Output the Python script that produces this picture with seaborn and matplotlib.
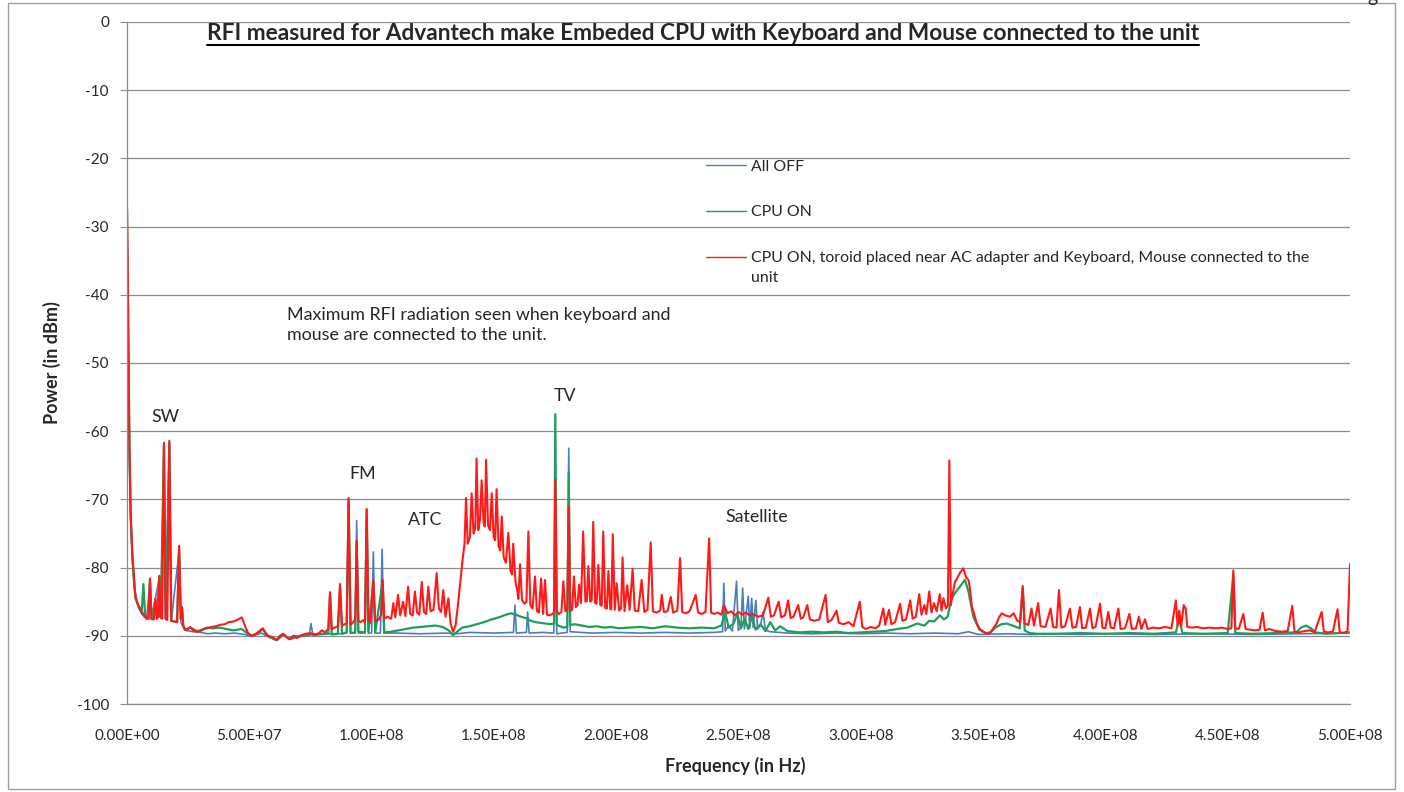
import numpy as np
import pandas as pd
import matplotlib
matplotlib.use("Agg")
import matplotlib.pyplot as plt
from matplotlib.lines import Line2D
from matplotlib.patches import Rectangle
from matplotlib.ticker import FuncFormatter
import seaborn as sns

# 범례 / 제목 텍스트
title = "RFI measured for Advantech make Embeded CPU with Keyboard and Mouse connected to the unit"
series_labels = ["All OFF", "CPU ON",
                 "CPU ON, toroid placed near AC adapter and Keyboard, Mouse connected to the\nunit"]
y_ticks = list(range(-100, 1, 10))
x_ticks_hz = [0, 5e7, 1e8, 1.5e8, 2e8, 2.5e8, 3e8, 3.5e8, 4e8, 4.5e8, 5e8]

# All OFF (MHz, dBm)
off_mhz = [0, 0.5, 1.0, 1.5, 2.2, 3, 4.6, 6, 8, 9.4, 10, 13.2, 13.8, 15.1, 15.8, 17.3, 18.1, 21.3, 22, 23.7,
           27, 30, 33, 36, 40, 44, 48, 51, 55, 58, 61.2, 64, 67, 71, 74.5, 75.2, 76, 80, 83, 87, 89.8,
           90.6, 91.4, 93.3, 93.9, 94.6, 97.3, 98.0, 98.7, 100.0, 100.7, 101.4, 103.6, 104.3, 105.0,
           110, 120, 130, 135, 140, 150, 158, 158.6, 159.2, 163.3, 163.8, 164.4, 170, 174.5, 175.1,
           175.7, 180.0, 180.6, 181.2, 190, 200, 210, 220, 230, 240, 243.5, 244, 244.6, 246, 247.5,
           249.2, 249.9, 251.0, 251.7, 252.4, 254.0, 254.6, 255.4, 256.0, 257.1, 257.8, 259, 260, 261,
           263, 270, 280, 290, 300, 310, 320, 330, 340, 344, 348, 360, 370, 380, 390, 400, 420, 440,
           460, 480, 500]
off_dbm = [-28, -47, -64, -73, -79, -83, -85.8, -86.8, -87.6, -82, -87.6, -81.5, -87.4, -62.5, -87.6, -62,
           -87.9, -77.5, -88, -89.2, -89.4, -89.5, -89.7, -89.6, -89.7, -89.6, -89.8, -90.1, -89.6, -90.2,
           -90.7, -89.9, -90.5, -90.1, -89.9, -88.2, -89.9, -89.8, -89.7, -89.7, -89.6, -70.2, -89.6,
           -89.6, -73.1, -89.6, -89.6, -71.8, -89.6, -89.6, -77.7, -89.6, -89.6, -77.3, -89.6, -89.6,
           -89.7, -89.6, -89.7, -89.5, -89.6, -89.5, -85.5, -89.6, -89.5, -86.5, -89.6, -89.5, -89.6,
           -70, -89.7, -89.5, -62.5, -89.4, -89.6, -89.5, -89.6, -89.5, -89.6, -89.5, -89.4, -82.3,
           -89.3, -88.5, -89.3, -82.0, -89.2, -88.8, -83.0, -89.0, -84.2, -88.9, -84.5, -88.8, -84.8,
           -89.0, -88.5, -86.5, -89.2, -89.4, -89.6, -89.7, -89.6, -89.7, -89.6, -89.7, -89.6, -89.7,
           -89.4, -89.8, -89.7, -89.8, -89.7, -89.8, -89.7, -89.8, -89.7, -89.8, -89.7, -89.6]

# CPU ON (MHz, dBm)
cpu_mhz = [0, 0.5, 1.0, 1.5, 2.2, 3.0, 3.5, 4.6, 6.0, 6.7, 7.4, 8.8, 9.4, 10, 11.6, 12.2, 13.2, 13.8,
           15.1, 15.8, 17.3, 18.1, 20.5, 21.3, 22, 22.5, 23.0, 23.7, 26, 28.5, 30, 32.6, 35, 38, 40.5,
           43.5, 46.9, 49, 51, 54.4, 55.6, 57.8, 61.2, 63.9, 66.5, 68, 71.4, 75.2, 79.6, 82.3, 83.0,
           83.7, 86.2, 87.1, 87.9, 89.8, 90.6, 91.4, 93.3, 93.9, 94.6, 97.3, 98.0, 98.7, 100.7, 101.5,
           104.5, 105.2, 108, 111, 114, 117, 120, 123, 126, 129, 131.5, 133.3, 135, 137, 140, 143, 146,
           149, 152, 155, 157, 159, 161, 163, 165, 167, 169, 171, 173, 174.6, 175.1, 175.7, 177, 178.5,
           180.0, 180.6, 181.2, 183, 186, 189, 192, 195, 198, 201, 205, 210, 215, 220, 225, 230, 235,
           240, 243, 244.5, 246, 248, 249.5, 251, 252.5, 254, 255.5, 257, 259, 261, 263, 265, 267, 270,
           275, 280, 285, 290, 295, 300, 305, 310, 315, 319, 323, 326, 328, 330, 332.3, 334, 335.5,
           337.1, 339, 340.5, 342.6, 344, 346, 348.5, 351, 353, 355, 357.5, 359.6, 362, 365, 366.2,
           367, 369, 372, 380, 390, 400, 410, 420, 428.8, 430.2, 431.5, 440, 450, 452.3, 453.1, 460,
           470, 478, 480, 482, 484, 486, 490, 500]
cpu_dbm = [-27.5, -46, -63, -72.5, -78.5, -82.5, -84.5, -85.5, -86.5, -82.4, -87, -87.5, -81.8, -87.5,
           -84.7, -87.5, -81.4, -87.3, -62, -87.5, -61.7, -87.8, -88, -77, -87.5, -86, -88.5, -89.1,
           -88.8, -89.3, -89.2, -88.8, -88.9, -88.8, -89, -89.2, -89.0, -89.6, -90.0, -89.4, -89.0,
           -90.1, -90.6, -89.8, -90.5, -90.1, -90.0, -89.8, -89.7, -89.6, -84.0, -89.8, -89.7, -83,
           -89.7, -89.5, -70.0, -89.6, -89.5, -76.2, -89.4, -89.5, -71.6, -89.4, -82, -89.5, -82.0,
           -89.5, -89.4, -89.2, -89.0, -88.8, -88.7, -88.6, -88.5, -88.7, -89.2, -89.9, -89.4, -88.8,
           -88.6, -88.3, -88.0, -87.6, -87.3, -86.9, -86.7, -86.9, -87.2, -87.4, -87.8, -88.0, -88.1,
           -88.2, -88.3, -88.2, -57.5, -88.4, -88.6, -88.8, -88.7, -66.0, -88.4, -88.3, -88.5, -88.7,
           -88.6, -88.8, -88.7, -88.9, -88.8, -88.7, -88.9, -88.6, -88.8, -88.9, -88.8, -88.9, -88.5,
           -86.5, -88.8, -88.2, -86.8, -88.9, -87.5, -89, -87.2, -89.1, -88.3, -89.3, -88.0, -89.2,
           -88.6, -89.3, -89.5, -89.4, -89.5, -89.4, -89.6, -89.5, -89.4, -89.3, -89.0, -88.8, -88.2,
           -88.5, -87.8, -87.9, -87.0, -87.6, -87.2, -84.5, -83.5, -82.8, -81.8, -83.5, -87.2, -89.1,
           -89.6, -89.5, -88.8, -88.3, -88.2, -88.5, -88.9, -82.9, -89.2, -89.6, -89.7, -89.7, -89.6,
           -89.7, -89.6, -89.7, -89.5, -87.5, -89.6, -89.7, -89.6, -81, -89.6, -89.7, -89.6, -89.5,
           -88.8, -88.5, -88.9, -89.5, -89.7, -89.5]

# CPU ON, toroid + keyboard/mouse (MHz, dBm)
kbd_mhz = [0, 0.5, 1.0, 1.5, 2.2, 3.0, 3.5, 4.6, 6.0, 6.7, 7.5, 8.0, 8.8, 9.4, 10.0, 11.0, 11.6, 12.2,
           12.8, 13.2, 13.8, 14.4, 15.1, 15.8, 16.5, 17.3, 18.1, 19.5, 20.5, 21.3, 22.0, 22.5, 23.0,
           23.7, 25.0, 25.8, 27.0, 28.5, 30.0, 31.5, 32.6, 34.5, 36.5, 38.0, 40.0, 41.5, 43.5, 45.5,
           46.9, 47.6, 48.5, 49.5, 51.0, 52.5, 54.4, 55.6, 56.5, 57.8, 59.5, 61.2, 62.5, 63.9, 65.5,
           66.5, 68.0, 69.5, 71.4, 73.0, 75.2, 77.0, 78.5, 79.6, 81.0, 82.3,
           83.0, 83.7, 85.0, 86.2, 87.1, 87.9, 89.0, 89.8, 90.6, 91.4, 92.5, 93.3, 93.9, 94.6, 95.5,
           96.5, 97.3, 98.0, 98.7, 99.5, 100.7, 101.5, 103.0, 104.0, 104.5, 105.2, 106.5, 108.0, 108.9,
           109.7, 110.8, 111.7, 112.9, 113.8, 114.9, 115.8, 116.8, 117.7, 118.6, 119.5, 120.5, 121.4,
           122.3, 123.2, 124.1, 125.3, 126.6, 127.5, 128.4, 129.3, 130.2, 131.4, 132.3, 133.3, 134.3,
           135.3, 136.3, 137.3, 138.0, 138.6, 139.3, 140.2, 140.9, 141.7, 142.4, 142.9, 143.6, 144.3,
           145.0, 145.8, 146.3, 146.8, 147.6, 148.4, 149.1, 149.9, 150.5, 151.1, 151.9, 152.6, 153.2,
           154.0, 154.9, 155.9, 156.8, 157.4, 157.9, 158.8, 159.6, 160.0, 160.7, 161.5, 162.5, 163.3,
           164.1, 164.9, 165.8, 166.8, 167.6, 168.4, 169.3, 170.1, 170.9, 171.7, 172.8, 174.0, 174.6,
           175.1, 175.7, 176.5, 177.6, 178.4, 179.2, 180.0, 180.6, 181.2, 182.0, 182.7, 183.5, 184.2,
           184.8, 185.6, 186.5, 187.4, 188.0, 188.6, 189.4, 190.0, 190.6, 191.4, 192.0, 192.7, 193.5,
           194.1, 194.7, 195.5, 196.2, 196.8, 197.6, 198.0, 198.6, 199.4, 200.2, 201.2, 202.0, 202.6,
           203.4, 204.5, 205.5, 206.7, 207.6, 209.0, 210.4, 211.5, 212.8, 214.1, 215.0, 216.5, 218.0,
           218.6, 219.5, 221.0, 222.3, 223.3, 225.0, 226.1, 227.0, 228.5, 230.0, 232.5, 233.5, 235.0,
           236.5, 238.0, 238.8, 240.0, 241.5, 243.0, 244.0, 245.5, 247.0, 248.5, 250.0, 251.5, 253.0,
           254.5, 256.0, 258.0, 260.0, 262.2, 263.2, 264.5, 266.4, 267.5, 269.0, 270.3, 271.3, 272.5,
           274.4, 275.5, 276.5, 278.1, 279.2, 281.0, 283.0, 285.6, 286.5, 288.0, 290.1, 291.0, 293.0,
           295.0, 297.0, 299.6, 300.6, 302.0, 304.0, 306.0, 307.5, 309.2, 310.0, 311.5, 312.5, 314.0,
           316.1, 317.0, 318.5, 320.2, 321.2, 322.5, 323.9, 324.8, 326.0, 326.8, 328.0, 328.9, 329.9,
           331.0, 332.3, 333.0, 333.8, 334.8, 335.6, 336.2, 336.8, 337.5, 338.5, 339.5, 340.5, 341.9,
           343.0, 344.0, 344.6, 345.4, 346.5, 347.4, 348.7, 350.1, 351.5, 352.8, 354.0, 355.5, 356.5,
           357.6, 359.0, 361.0, 362.5, 364.0, 365.1, 366.2, 367.0, 368.5, 369.8, 370.8, 372.5, 373.5,
           375.5, 377.6, 378.6, 380.0, 381.0, 382.0, 383.5, 385.5, 386.5, 388.0, 389.6, 390.5, 392.0,
           393.7, 394.7, 396.0, 397.8, 398.8, 400.0, 401.2, 402.2, 403.5, 405.3, 406.2, 408.0, 409.8,
           410.8, 412.5, 413.7, 414.7, 416.2, 417.3, 419.5, 422.0, 424.5, 427.0, 428.8, 429.5, 430.2,
           431.0, 432.0, 432.8, 433.5, 435.5, 437.5, 440.0, 442.5, 445.0, 447.5, 450.0, 451.5, 452.3,
           453.1, 454.5, 456.4, 457.3, 459.0, 461.5, 463.0, 464.3, 465.2, 467.0, 469.5, 472.0, 474.5,
           476.4, 477.3, 479.0, 481.5, 483.6, 485.5, 488.4, 489.3, 491.0, 493.0, 494.9, 495.8, 497.5,
           499.0, 500.0]
kbd_dbm = [-26.8, -45, -62, -72, -78, -82.3, -84.5, -85.5, -86.5, -86.8, -87.2, -87.4, -87.5, -81.6,
           -87.5, -87.6, -84.5, -87.5, -87.2, -81.2, -87.3, -87.5, -61.7, -87.5, -87.7, -61.4, -87.8,
           -87.9, -88, -76.8, -87.5, -85.8, -88.5, -89.1, -89.0, -88.7, -89.2, -89.4, -89.3, -89.0,
           -88.9, -88.7, -88.6, -88.4, -88.3, -88.0, -87.9, -87.6, -87.3, -87.9, -88.8, -89.6, -90.0,
           -89.8, -89.2, -88.9, -89.6, -90.0, -90.2, -90.6, -90.0, -89.7, -90.3, -90.5, -90.0, -90.3,
           -89.9, -89.7, -89.6, -89.9, -89.6, -89.2, -89.5, -89.0,
           -83.6, -89.0, -88.8, -88.6, -82.4, -88.5, -88.3, -88.2, -69.8, -88.4, -88.0, -87.5, -76.0,
           -87.8, -88.0, -87.7, -88.0, -71.4, -87.7, -88.1, -81.8, -87.9, -87.6, -86.8, -81.8, -87.5,
           -87.2, -87.5, -85.2, -87.3, -84.0, -87.0, -85.0, -87.1, -82.8, -86.8, -87.0, -83.5, -86.6,
           -86.9, -82.1, -86.5, -86.8, -82.8, -86.4, -86.2, -80.8, -86.0, -86.5, -83.3, -87.2, -84.5,
           -88.2, -89.4, -88.5, -85.5, -82.0, -78.5, -76.5, -69.8, -76.5, -75.5, -69.1, -75.0, -74.2,
           -64.0, -74.5, -73.0, -67.2, -73.5, -74.0, -64.2, -73.8, -74.5, -69.1, -75.5, -76.0, -68.5,
           -76.8, -77.5, -72.5, -78.5, -79.3, -74.9, -80.5, -81.0, -76.5, -82.0, -83.5, -84.6, -79.5,
           -84.8, -85.3, -85.0, -74.7, -85.5, -86.0, -81.3, -86.4, -86.6, -81.6, -86.8, -81.8, -86.9,
           -87.0, -86.8, -86.5, -67.1, -86.3, -86.8, -86.5, -82.0, -86.4, -86.2, -71.1, -86.4, -86.1,
           -81.3, -85.8, -85.5, -82.5, -85.2, -74.7, -85.0, -84.9, -79.8, -85.0, -84.8, -73.3, -85.2,
           -85.3, -79.6, -85.5, -85.6, -74.7, -85.9, -86.0, -80.5, -86.1, -86.1, -75.1, -86.2, -82.3,
           -86.3, -86.0, -78.5, -86.4, -82.6, -86.2, -80.2, -86.3, -86.4, -81.8, -86.5, -86.2, -76.3,
           -86.4, -86.6, -86.3, -84.0, -86.5, -86.4, -84.3, -86.6, -86.3, -78.6, -86.5, -86.7, -86.4,
           -84.0, -86.6, -86.8, -86.5, -75.7, -86.6, -86.8, -86.6, -86.9, -85.5, -86.7, -86.4, -87.0,
           -86.5, -86.9, -86.6, -87.0, -86.8, -87.2, -87.0, -84.4, -87.2, -87.0, -85.0, -87.3, -87.0,
           -84.8, -87.4, -87.2, -85.5, -87.5, -87.3, -85.5, -87.6, -87.8, -87.6, -84.0, -88.0, -87.7,
           -86.3, -88.1, -88.3, -88.0, -88.6, -85.0, -88.7, -89.0, -88.7, -88.9, -88.5, -86.0, -88.4,
           -86.2, -88.3, -88.0, -85.3, -87.8, -87.6, -84.8, -87.5, -87.2, -83.9, -86.9, -85.5, -86.8,
           -83.5, -86.6, -85.2, -86.4, -83.9, -86.3, -84.5, -86.0, -85.6, -64.3, -85.5, -84.0, -82.1,
           -81.5, -80.8, -80.1, -81.4, -81.8, -83.0, -85.7, -87.0, -88.2, -89.0, -89.4, -89.7, -89.6,
           -89.0, -88.2, -87.3, -86.7, -87.0, -87.2, -86.7, -87.8, -88.0, -82.7, -88.2, -88.4, -86.0,
           -88.5, -85.2, -88.6, -88.7, -86.0, -88.7, -88.8, -83.3, -88.8, -88.6, -86.0, -88.8, -88.7,
           -85.8, -88.9, -88.8, -86.0, -88.9, -88.7, -85.3, -88.8, -88.9, -86.5, -88.8, -88.9, -86.0,
           -89.0, -88.9, -86.8, -89.0, -88.9, -87.2, -89.0, -87.6, -89.0, -88.8, -88.9, -88.7, -88.9,
           -84.8, -88.5, -86.3, -88.6, -85.5, -86.0, -88.7, -88.8, -88.7, -88.9, -88.8, -88.9, -88.8,
           -89.0, -88.9, -80.4, -88.9, -89.0, -86.8, -89.0, -89.1, -89.2, -89.1, -86.6, -89.2, -89.0,
           -89.3, -89.4, -89.3, -85.6, -89.4, -89.5, -89.3, -89.2, -89.5, -86.5, -89.4, -89.5, -89.4,
           -86.1, -89.5, -89.6, -89.3, -79.5]

sns.set_style("white")
plt.rcParams['font.family'] = ['Lato', 'DejaVu Sans']
plt.rcParams['axes.unicode_minus'] = False

fig = plt.figure(figsize=(14.04, 7.92), dpi=100)
ax = fig.add_axes([127 / 1404, 1 - 704 / 792, 1223 / 1404, 682 / 792])

colors = ["#4a7ebb", "#1f9e5a", "#ff1a1a"]
widths = [1.2, 1.6, 1.5]
for mhz, dbm, c, w in zip([off_mhz, cpu_mhz, kbd_mhz], [off_dbm, cpu_dbm, kbd_dbm], colors, widths):
    df = pd.DataFrame({"hz": np.array(mhz) * 1e6, "dbm": dbm})
    sns.lineplot(data=df, x="hz", y="dbm", color=c, lw=w, ax=ax, estimator=None, sort=False)

ax.set_xlim(0, 5e8)
ax.set_ylim(-100, 0)
ax.set_yticks(y_ticks)
ax.set_xticks(x_ticks_hz)
ax.xaxis.set_major_formatter(FuncFormatter(lambda v, p: "{:.2E}".format(v)))
ax.grid(axis="y", color="#8c8c8c", lw=0.9)
ax.grid(axis="x", visible=False)
for s in ["top", "right"]:
    ax.spines[s].set_visible(False)
for s in ["left", "bottom"]:
    ax.spines[s].set_color("#8c8c8c")
    ax.spines[s].set_linewidth(0.9)
ax.tick_params(axis="y", length=5, color="#8c8c8c", labelsize=11, pad=8, left=True)
ax.tick_params(axis="x", length=0, labelsize=11, pad=18)

ax.set_xlabel("Frequency (in Hz)", fontsize=13, fontweight="bold")
ax.set_ylabel("Power (in dBm)", fontsize=13, fontweight="bold")
ax.xaxis.label.set_va("center")
ax.yaxis.label.set_va("center")
ax.xaxis.set_label_coords(0.497, -0.091)
ax.yaxis.set_label_coords(-0.061, 0.5)

# 주석
for txt, fx, fy in [("SW", 15.9e6, -57.9), ("FM", 96.5e6, -66.3), ("ATC", 121.8e6, -73.0),
                    ("TV", 179e6, -54.8), ("Satellite", 257.5e6, -72.6)]:
    ax.text(fx, fy, txt, fontsize=12.8, ha="center", va="center")
ax.text(65.4e6, -44.4, "Maximum RFI radiation seen when keyboard and\nmouse are connected to the unit.",
        fontsize=12.9, ha="left", va="center", linespacing=1.28)

handles = [Line2D([], [], color=c, lw=1.0) for c in colors]
leg = ax.legend(handles, series_labels, loc="upper left", bbox_to_anchor=(0.462, 0.819), frameon=False,
                fontsize=11.4, handlelength=2.5, handletextpad=0.3, labelspacing=2.0)
leg.get_texts()[2].set_linespacing(1.55)
for col in leg._legend_handle_box.get_children():
    for item in col.get_children():
        item.align = "top"

# 제목 (밑줄)
t = fig.text(0.5008, 1 - 33 / 792, title, fontsize=16.3, fontweight="bold", ha="center", va="center")
fig.canvas.draw()
bb = t.get_window_extent()
fig.add_artist(Line2D([bb.x0 / 1404, bb.x1 / 1404], [(bb.y0 - 1) / 792] * 2, color="black", lw=1.5))

fig.add_artist(Rectangle((8 / 1404, 3 / 792), 1387 / 1404, 786 / 792, fill=False, ec="#a0a0a0", lw=1))
fig.text(1372 / 1404, 1 - 2 / 792, "g", fontsize=14, ha="center", va="baseline")

fig.savefig("out.png", dpi=100)
